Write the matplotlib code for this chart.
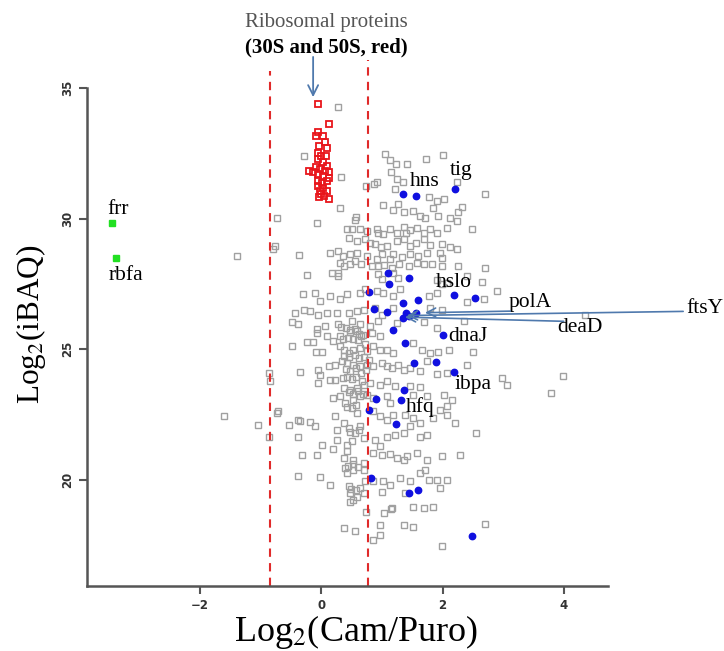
import matplotlib
matplotlib.use("Agg")
import matplotlib.pyplot as plt

plt.rcParams["font.family"] = ["Liberation Serif", "DejaVu Serif"]
plt.rcParams["mathtext.fontset"] = "stix"

# other proteins (grey open squares)
grey_x = [
    -0.28, 0.32, 0.31, 0.74, 0.92, 0.87, 1.05, 1.14, 1.23, 1.41, 1.72, 2.00, 1.15, 1.25, 1.34, 1.21,
    1.77, 1.91, 2.02, 2.24, 2.70, 1.02, 1.19, 1.27, 1.37, 1.51, 1.63, 1.71, 1.84, 1.93, 2.13, 2.26,
    2.32, 2.24, 0.57, 0.56, -0.73, -0.07, 0.42, 0.50, 0.64, 0.76, 0.92, 0.94, 1.01, 1.14, 1.25, 1.36,
    1.40, 1.46, 1.58, 1.69, 1.80, 1.91, 2.07, 2.48, 0.45, 0.59, 0.72, 0.81, 0.89, 0.98, 1.08, 1.25,
    1.37, 1.47, 1.56, 1.69, 1.80, 1.99, 2.13, 2.24, -0.76, -0.79, -0.36, 0.15, 0.27, 0.35, 0.48, 0.59,
    0.75, 0.92, 1.00, 1.14, 1.19, 1.33, 1.47, 1.60, 1.74, 1.96, 1.99, 0.31, 0.38, 0.28, 0.48, 0.56,
    0.65, 0.83, 0.94, 1.04, 1.16, 1.29, 1.45, 1.58, 1.69, 1.82, 1.99, 2.26, 2.70, -0.23, 0.17, 0.28,
    0.94, 1.00, 1.19, 1.27, 1.91, 1.99, 2.07, 2.40, 2.65, 2.90, -0.31, -0.10, -0.02, 0.15, 0.31, 0.42,
    0.64, 0.72, 0.92, 1.02, 1.19, 1.30, 1.77, 1.91, 2.40, 2.68, -0.43, -0.29, -0.18, -0.05, 0.09, 0.26,
    0.45, 0.59, 0.70, 0.89, 1.00, 1.19, 1.80, 1.99, -0.49, -0.38, -0.07, 0.06, 0.28, 0.50, 0.64, 0.81,
    0.94, 1.25, 1.69, 1.91, 2.35, 4.35, -0.07, 0.09, 0.31, 0.48, 0.59, 0.83, 0.97,
    -0.49, -0.24, -0.13, -0.09, 0.01, 0.20, 0.31, 0.37, 0.45, 0.53, 0.64, 0.75, 0.86, 0.97, 1.08, 1.19,
    1.52, 1.66, 1.80, 1.93, 2.10, 2.51, -0.35, -0.06, -0.02, 0.12, 0.23, 0.34, 0.42, 0.53, 0.64, 0.75,
    0.86, 1.00, 1.08, 1.16, 1.27, 1.36, 1.47, 1.63, 1.74, 1.91, 2.07, 2.40, 2.98, 3.06, 3.98, 3.79,
    -0.87, -0.84, -0.05, 0.15, 0.23, 0.37, 0.48, 0.59, 0.70, 0.81, 0.97, 1.08, 1.22, 1.47, 1.63, 0.20,
    0.31, 0.39, 0.53, 0.64, 0.75, 0.86, 1.08, 1.14, 1.52, 1.74, 2.02, 2.15, -1.61, -1.04, -0.73, -0.71,
    -0.53, -0.38, -0.35, -0.18, -0.10, 0.23, 0.37, 0.45, 0.64, 0.26, 0.59, 0.86, 0.97, 1.08, 1.19, 1.38,
    1.52, 1.63, 1.85, 2.07, 2.21, 2.07, 1.96, -0.86, -0.38, 0.01, 0.26, 0.42, 0.50, 0.70, 0.89, 0.97,
    1.08, 1.22, 1.36, 1.47, 1.63, 1.74, 2.55, -0.32, -0.07, 0.20, 0.42, 0.37, 0.53, 0.70, 0.86, 1.00,
    1.14, 1.25, 1.36, 1.41, 1.58, 1.74, 1.99, 2.28, -0.38, -0.02, 0.15, 0.39, 0.42, 0.53, 0.70, 0.72,
    0.86, 1.01, 1.14, 1.30, 1.47, 1.63, 1.71, 1.77, 1.91, 2.07, 1.96, 0.45, 0.48, 0.53, 0.59, 0.70,
    1.00, 1.16, 1.38, 1.52, 1.69, 1.85, 1.03, 0.37, 0.56, 0.97, 1.36, 1.52, 2.70, 0.86, 0.97, 1.99,
    0.73, 1.15, 0.48, 0.28, -1.39,
    0.33, 0.41, 0.47, 0.55, 0.62, 0.68, 0.35, 0.44, 0.52, 0.60, 0.66, 0.72, 0.38, 0.46, 0.55, 0.63,
    0.70, 0.78, 0.40, 0.48, 0.57, 0.65, 0.74, 0.36, 0.43, 0.51, 0.58, 0.67, 0.45, 0.53, 0.61, 0.69,
    0.42, 0.50, 0.58, 0.47, 0.55, 0.62, 0.44, 0.52, 0.60, 0.49, 0.57, 0.64,
]
grey_y = [
    32.38, 31.60, 30.40, 31.25, 31.41, 31.32, 32.47, 32.25, 32.09, 32.09, 32.28, 32.43, 31.77, 31.53, 31.41, 31.15,
    30.81, 30.68, 30.74, 31.41, 30.93, 30.51, 30.32, 30.55, 30.26, 30.29, 30.10, 30.04, 30.42, 30.10, 30.04, 30.26,
    30.45, 29.91, 30.06, 29.95, 30.04, 29.85, 29.62, 29.62, 29.59, 29.53, 29.59, 29.46, 29.40, 29.59, 29.46, 29.69,
    29.44, 29.57, 29.66, 29.46, 29.59, 29.46, 29.66, 29.62, 29.27, 29.14, 29.21, 29.08, 29.02, 28.93, 28.95, 29.14,
    29.21, 28.95, 29.08, 29.21, 28.98, 29.02, 28.91, 28.82, 28.95, 28.82, 28.61, 28.70, 28.76, 28.57, 28.63, 28.67,
    28.57, 28.44, 28.63, 28.44, 28.63, 28.54, 28.63, 28.57, 28.70, 28.70, 28.51, 28.31, 28.19, 27.93, 28.25, 28.38,
    28.25, 28.19, 28.19, 28.21, 28.12, 28.25, 28.19, 28.31, 28.25, 28.25, 28.19, 28.19, 28.12, 27.83, 27.93, 27.80,
    27.87, 27.70, 27.93, 27.74, 27.67, 27.48, 27.55, 27.80, 27.57, 27.23, 27.10, 27.16, 26.84, 27.03, 26.91, 27.10,
    27.16, 27.29, 27.23, 27.16, 27.03, 27.29, 27.03, 27.16, 26.80, 26.91, 26.39, 26.50, 26.46, 26.33, 26.39, 26.37,
    26.39, 26.46, 26.52, 26.59, 26.33, 26.59, 26.59, 26.52, 26.04, 25.95, 25.76, 25.88, 25.95, 26.08, 25.95, 25.88,
    26.08, 26.01, 26.04, 25.82, 26.08, 26.33, 25.63, 25.50, 25.50, 25.65, 25.69, 25.63, 25.50,
    25.12, 25.27, 25.27, 24.89, 24.89, 25.31, 25.12, 24.99, 24.86, 24.99, 25.05, 24.92, 25.12, 24.99, 24.99, 24.86,
    25.24, 24.99, 24.86, 24.89, 24.99, 24.89, 24.12, 24.22, 24.03, 24.35, 24.41, 24.54, 24.48, 24.41, 24.37, 24.41,
    24.35, 24.48, 24.35, 24.28, 24.41, 24.22, 24.28, 24.16, 24.54, 24.06, 24.09, 24.39, 23.90, 23.65, 23.97, 23.33,
    24.09, 23.77, 23.71, 23.81, 23.84, 23.52, 23.45, 23.52, 23.65, 23.71, 23.65, 23.77, 23.58, 23.58, 23.56, 23.13,
    23.20, 22.94, 23.07, 23.20, 23.26, 23.13, 23.20, 22.94, 23.26, 23.20, 23.26, 23.07, 22.43, 22.11, 22.56, 22.62,
    22.09, 22.30, 22.24, 22.23, 22.05, 22.43, 22.17, 21.98, 22.05, 21.92, 22.56, 22.62, 22.43, 22.30, 22.49, 22.49,
    22.37, 22.17, 22.37, 22.49, 22.17, 22.81, 22.69, 21.66, 21.66, 21.34, 21.54, 21.34, 21.47, 21.60, 21.54, 21.28,
    21.66, 21.73, 21.79, 22.05, 21.66, 21.73, 21.79, 20.96, 20.94, 21.18, 21.09, 20.83, 20.77, 20.64, 21.02, 20.96,
    21.00, 20.83, 20.77, 20.90, 21.02, 20.77, 20.90, 20.96, 20.15, 20.10, 19.81, 20.45, 20.26, 20.39, 20.39, 19.94,
    19.94, 19.94, 19.81, 20.07, 19.94, 20.26, 20.39, 20.00, 20.00, 20.00, 19.68, 19.75, 19.49, 19.23, 19.36, 19.51,
    19.55, 18.91, 19.49, 18.98, 18.91, 18.98, 18.72, 18.15, 18.06, 18.28, 18.28, 18.19, 18.30, 17.70, 17.89, 17.47,
    18.79, 18.90, 19.17, 34.28, 28.56,
    25.85, 25.80, 25.72, 25.78, 25.60, 25.55, 25.40, 25.45, 25.38, 25.35, 25.50, 25.20, 24.75, 24.70, 24.78, 24.65,
    24.72, 24.60, 24.25, 24.18, 24.28, 24.10, 24.20, 23.90, 23.95, 23.85, 23.92, 23.80, 23.35, 23.30, 23.40, 23.28,
    22.80, 22.75, 22.85, 21.85, 21.80, 21.90, 20.55, 20.60, 20.50, 19.65, 19.60, 19.70,
]

# ribosomal proteins 30S / 50S (red open squares)
ribo_x = [-0.06, 0.12, -0.06, -0.08, 0.03, 0.06, -0.03, 0.09, -0.06, -0.01, 0.08, -0.05, 0.03, 0.10,
          -0.08, -0.02, 0.06, 0.13, -0.20, -0.13, -0.05, 0.02, 0.12, -0.06, 0.01, 0.09, -0.05, 0.03,
          -0.02, 0.10, -0.03, 0.12, 0.05, -0.01]
ribo_y = [34.37, 33.64, 33.30, 33.17, 33.17, 32.92, 32.79, 32.72, 32.53, 32.40, 32.40, 32.28, 32.15, 32.02,
          31.96, 31.89, 31.83, 31.77, 31.83, 31.77, 31.70, 31.64, 31.57, 31.45, 31.38, 31.45, 31.25, 31.19,
          31.06, 31.06, 30.84, 30.77, 30.87, 30.93]

# highlighted proteins (blue dots)
blue_x = [1.34, 1.56, 2.21, 1.10, 1.44, 1.12, 2.19, 2.54, 0.78, 1.34, 1.60, 0.87, 1.08, 1.40, 1.56, 1.35,
          1.44, 1.19, 2.01, 1.38, 1.53, 1.89, 2.19, 1.37, 0.90, 1.32, 0.78, 1.23, 0.82, 1.45, 1.60, 2.49]
blue_y = [30.96, 30.86, 31.13, 27.93, 27.72, 27.51, 27.06, 26.96, 27.19, 26.79, 26.88, 26.55, 26.42, 26.37,
          26.38, 26.20, 26.29, 25.72, 25.53, 25.25, 24.48, 24.52, 24.12, 23.45, 23.08, 23.07, 22.68, 22.15,
          20.09, 19.51, 19.62, 17.87]

# frr / rbfa (green squares)
green_x = [-3.46, -3.39]
green_y = [29.85, 28.50]

cutoffs = [-0.85, 0.77]

labels = ["tig", "hns", "hslo", "dnaJ", "ibpa", "hfq", "frr", "rbfa"]
label_x = [2.31, 1.70, 2.19, 2.42, 2.50, 1.63, -3.36, -3.22]
label_y = [31.85, 31.43, 27.56, 25.49, 23.65, 22.80, 30.36, 27.83]

# arrowed labels: text position, arrow tail, arrow head
arrow_labels = ["polA", "deaD", "ftsY"]
arrow_text_x = [3.45, 4.27, 6.32]
arrow_text_y = [26.79, 25.83, 26.56]
arrow_tail_x = [3.12, 4.00, 5.97]
arrow_tail_y = [26.46, 26.07, 26.45]
arrow_head_x = [1.71, 1.38, 1.41]
arrow_head_y = [26.40, 26.23, 26.29]

fig = plt.figure(figsize=(7.24, 6.51), dpi=100)
ax = fig.add_axes([0.1202, 0.1003, 0.7196, 0.7645])

ax.plot(grey_x, grey_y, ls="none", marker="s", ms=4.8, mfc="none", mec="#a0a0a0", mew=1.0)
ax.plot(ribo_x, ribo_y, ls="none", marker="s", ms=4.8, mfc="none", mec="#e8161b", mew=1.3)
ax.plot(blue_x, blue_y, ls="none", marker="o", ms=4.6, color="#1010e0")
ax.plot(green_x, green_y, ls="none", marker="s", ms=4.6, color="#22e022")

ax.vlines(cutoffs, 15.95, [35.65, 36.07], colors="#e02a2a", linestyles=(0, (4, 3)),
          lw=1.5, clip_on=False)

for name, x, y in zip(labels, label_x, label_y):
    ax.text(x, y, name, ha="center", va="center", fontsize=15.5)

arrow_color = "#4f79ad"
for name, tx, ty, x0, y0, x1, y1 in zip(arrow_labels, arrow_text_x, arrow_text_y,
                                        arrow_tail_x, arrow_tail_y, arrow_head_x, arrow_head_y):
    ax.text(tx, ty, name, ha="center", va="center", fontsize=15.5, clip_on=False)
    ax.annotate("", xy=(x1, y1), xytext=(x0, y0), annotation_clip=False,
                arrowprops=dict(arrowstyle="->", color=arrow_color, lw=1.2, mutation_scale=16,
                                shrinkA=0, shrinkB=0))

ax.annotate("", xy=(-0.135, 34.65), xytext=(-0.135, 36.19), annotation_clip=False,
            arrowprops=dict(arrowstyle="->", color=arrow_color, lw=1.3, mutation_scale=18,
                            shrinkA=0, shrinkB=0))
fig.text(326 / 724, 1 - 23 / 651, "Ribosomal proteins", ha="center", va="center",
         fontsize=15, color="#555555")
fig.text(326 / 724, 1 - 47 / 651, "(30S and 50S, red)", ha="center", va="center",
         fontsize=15, fontweight="bold")

ax.set_xlim(-3.865, 4.73)
ax.set_ylim(15.95, 35.0)
ax.set_xticks([-2, 0, 2, 4])
ax.set_yticks([20, 25, 30, 35])
ax.spines["top"].set_visible(False)
ax.spines["right"].set_visible(False)
for side in ["left", "bottom"]:
    ax.spines[side].set_color("#555555")
    ax.spines[side].set_linewidth(1.8)
ax.tick_params(direction="out", length=6, width=1.5, color="#555555", labelsize=8.5)
for lab in ax.get_xticklabels() + ax.get_yticklabels():
    lab.set_family("DejaVu Sans")
    lab.set_fontweight("bold")
    lab.set_color("#333333")
for lab in ax.get_yticklabels():
    lab.set_rotation(90)
    lab.set_va("center")

ax.set_xlabel("Log$_2$(Cam/Puro)", fontsize=26)
ax.set_ylabel("Log$_2$(iBAQ)", fontsize=22.5)
ax.xaxis.set_label_coords(0.516, -0.1113)
ax.xaxis.label.set_va("baseline")
ax.yaxis.set_label_coords(-0.1075, 0.525)
ax.yaxis.label.set_va("center")

fig.savefig("out.png", dpi=100)
